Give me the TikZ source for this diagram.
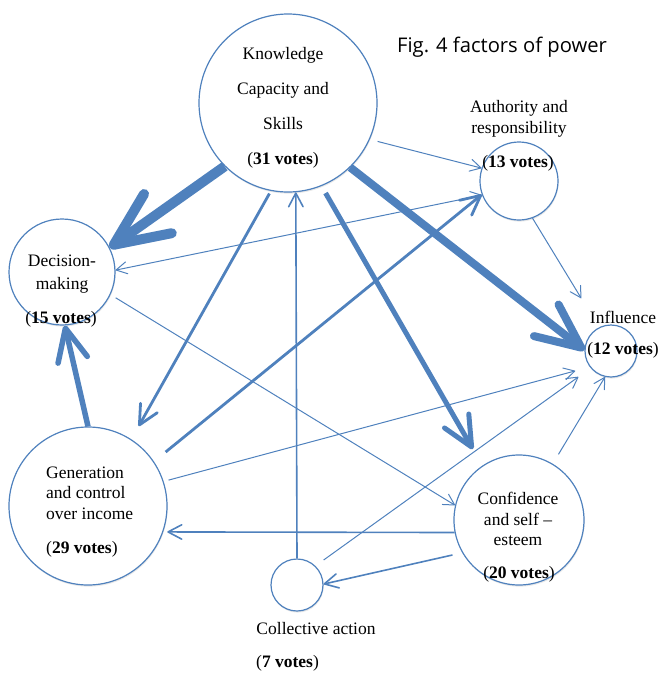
\documentclass[tikz,border=0pt]{standalone}
\usepackage{fontspec}
\setmainfont{Liberation Serif}
\newfontfamily\titlefont{Open Sans}
\usepackage{tikz}
\usetikzlibrary{arrows.meta,shadows}
\definecolor{linkblue}{RGB}{79,129,189}

\begin{document}
\begin{tikzpicture}[x=1pt, y=-1pt,
  circ/.style={circle, draw=linkblue, line width=1.2pt, fill=white, inner sep=0pt, minimum size=#1,
    drop shadow={opacity=0.18, shadow xshift=0.6pt, shadow yshift=-1.6pt}},
  lbl/.style={inner sep=0pt, font=\fontsize{17.5}{20.5}\selectfont},
  link/.style={draw=linkblue, >={Straight Barb[length=6pt 4.8, width=8pt 4, round]}, ->}]
\useasboundingbox (0,0) rectangle (662,673);
% one circle per factor, placed at its pixel centre
\node[circ=178pt] (know) at (288,103) {};
\node[circ=78pt]  (auth) at (519,181) {};
\node[circ=106pt] (dec)  at (62,272)  {};
\node[circ=52pt]  (infl) at (611,351) {};
\node[circ=158pt] (gen)  at (88,506)  {};
\node[circ=130pt] (conf) at (519,520) {};
\node[circ=52pt]  (coll) at (297,585) {};

\node[lbl, align=center, font=\fontsize{17.5}{35}\selectfont] (knowtxt) at (283,108)
  {Knowledge\\Capacity and\\Skills\\(\textbf{31 votes})};
\node[lbl, align=center] (authtxt) at (519,119) {Authority and\\responsibility};
\node[lbl] (authvotes) at (518,163) {(\textbf{13 votes})};
\node[lbl, align=center, font=\fontsize{17.5}{23}\selectfont] (dectxt) at (62,274) {Decision-\\making};
\node[lbl] (decvotes) at (61,319) {(\textbf{15 votes})};
\node[lbl] (infltxt) at (623,317) {Influence};
\node[lbl] (inflvotes) at (623,350) {(\textbf{12 votes})};
\node[lbl, align=left, anchor=west] (gentxt) at (46,493) {Generation\\and control\\over income};
\node[lbl, anchor=west] (genvotes) at (46,549) {(\textbf{29 votes})};
\node[lbl, align=center] (conftxt) at (518,519) {Confidence\\and self --\\esteem};
\node[lbl] (confvotes) at (519,574) {(\textbf{20 votes})};
\node[lbl] (colltxt) at (316,629) {Collective action};
\node[lbl, anchor=west] (collvotes) at (256,663) {(\textbf{7 votes})};
\node[inner sep=0pt, anchor=west, font=\titlefont\fontsize{20.2}{23}\selectfont] (title) at (397,47)
  {Fig. 4 factors of power};

\foreach \a/\b/\w/\sa/\sb in {know.225/dec.27/10pt/0pt/0pt,
                              know.314/infl.178/8pt/0pt/0pt,
                              know.292/conf.124/5pt/8pt/19pt,
                              gen.90/dec.273/5.5pt/0pt/0pt,
                              know.259/gen.57/2.8pt/3pt/15pt,
                              gen.34/auth.200/2.8pt/15pt/0pt,
                              coll.90/know.275/1.6pt/0pt/0pt,
                              conf.191/gen.341/1.6pt/0pt/4pt,
                              conf.210/coll.2/1.6pt/10pt/0pt,
                              know.336/auth.161/1pt/8pt/0pt,
                              gen.18/infl.217/1pt/5pt/15pt,
                              coll.46/infl.220/1pt/10pt/15pt,
                              conf.59/infl.257/1pt/11pt/0pt,
                              auth.290/infl.117/1pt/0pt/34pt,
                              dec.335/conf.167/1pt/6pt/0pt}{%
  \draw[link, line width=\w, shorten <=\sa, shorten >=\sb] (\a) -- (\b);}
\draw[link, <->, line width=1pt] (dec.2) -- (auth.201);
\end{tikzpicture}
\end{document}
